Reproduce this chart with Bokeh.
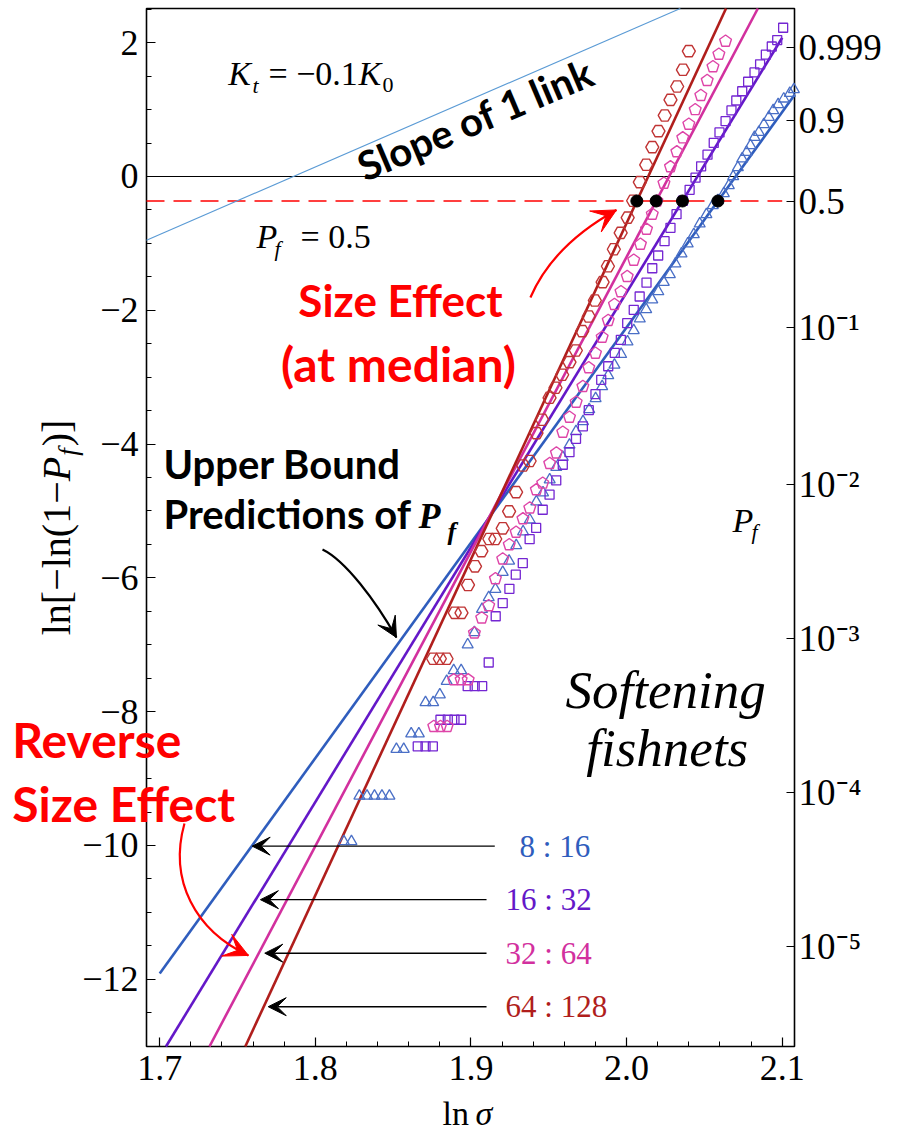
import numpy as np
from bokeh.plotting import figure
from bokeh.models import (Range1d, LinearAxis, FixedTicker, CustomJSTickFormatter,
                          Label, Arrow, VeeHead)
from bokeh.embed import file_html
from bokeh.resources import INLINE

# ---------------- data ----------------
# 8:16 (triangles)
tri_x = [1.8183, 1.8232, 1.8283, 1.8332, 1.8380, 1.8428, 1.8476, 1.8521, 1.8568, 1.8616,
         1.8665, 1.8708, 1.8757, 1.8800, 1.8844, 1.8889, 1.8937, 1.8979, 1.9022, 1.9071,
         1.9114, 1.9157, 1.9204, 1.9245, 1.9291, 1.9335, 1.9378, 1.9420, 1.9463, 1.9506,
         1.9548, 1.9590, 1.9633, 1.9675, 1.9720, 1.9760, 1.9801, 1.9843, 1.9882, 1.9922,
         1.9965, 2.0006, 2.0046, 2.0085, 2.0126, 2.0165, 2.0204, 2.0239, 2.0278, 2.0314,
         2.0353, 2.0393, 2.0432, 2.0470, 2.0513, 2.0554, 2.0587, 2.0625, 2.0657, 2.0685,
         2.0715, 2.0743, 2.0771, 2.0796, 2.0822, 2.0850, 2.0882, 2.0914, 2.0942, 2.0974,
         2.1010, 2.1049, 2.1075]
tri_y = [-9.940, -9.940, -9.260, -9.260, -9.260, -9.260, -9.260, -8.561, -8.561, -8.330,
         -8.330, -7.862, -7.862, -7.746, -7.544, -7.384, -7.384, -6.998, -6.816, -6.469,
         -6.293, -6.169, -5.915, -5.747, -5.516, -5.309, -5.132, -4.861, -4.726, -4.532,
         -4.345, -4.196, -4.013, -3.812, -3.662, -3.483, -3.318, -3.139, -2.975, -2.818,
         -2.658, -2.471, -2.302, -2.127, -1.988, -1.842, -1.720, -1.580, -1.465, -1.305,
         -1.155, -1.006, -0.867, -0.707, -0.568, -0.433, -0.359, -0.254, -0.135, 0.000,
         0.135, 0.265, 0.363, 0.463, 0.587, 0.662, 0.777, 0.886, 0.987, 1.076,
         1.161, 1.245, 1.300]
# 16:32 (squares)
sq_x = [1.8658, 1.8708, 1.8755, 1.8804, 1.8851, 1.8894, 1.8937, 1.8979, 1.9024, 1.9072,
        1.9114, 1.9159, 1.9204, 1.9247, 1.9288, 1.9333, 1.9377, 1.9419, 1.9461, 1.9505,
        1.9548, 1.9590, 1.9633, 1.9675, 1.9719, 1.9757, 1.9800, 1.9837, 1.9882, 1.9924,
        1.9963, 2.0004, 2.0046, 2.0084, 2.0128, 2.0165, 2.0203, 2.0244, 2.0282, 2.0321,
        2.0362, 2.0405, 2.0443, 2.0479, 2.0520, 2.0560, 2.0597, 2.0636, 2.0674, 2.0705,
        2.0743, 2.0781, 2.0822, 2.0858, 2.0895, 2.0933, 2.0968, 2.1006]
sq_y = [-8.520, -8.520, -8.520, -8.121, -8.121, -8.121, -8.121, -7.619, -7.619, -7.619,
        -7.265, -6.574, -6.378, -6.163, -5.952, -5.780, -5.422, -5.254, -4.982, -4.756,
        -4.544, -4.309, -4.121, -3.921, -3.734, -3.493, -3.254, -3.039, -2.837, -2.638,
        -2.441, -2.193, -1.993, -1.794, -1.587, -1.372, -1.181, -0.967, -0.767, -0.564,
        -0.363, -0.199, -0.018, 0.152, 0.326, 0.501, 0.658, 0.827, 0.987, 1.136,
        1.274, 1.416, 1.555, 1.677, 1.822, 1.943, 2.039, 2.223]
# 32:64 (pentagons)
pent_x = [1.8761, 1.8804, 1.8847, 1.8889, 1.8937, 1.8982, 1.9022, 1.9069, 1.9114, 1.9157,
          1.9204, 1.9246, 1.9290, 1.9334, 1.9378, 1.9420, 1.9461, 1.9506, 1.9549, 1.9590,
          1.9633, 1.9676, 1.9719, 1.9757, 1.9800, 1.9843, 1.9882, 1.9922, 1.9964, 2.0004,
          2.0046, 2.0089, 2.0128, 2.0165, 2.0195, 2.0240, 2.0282, 2.0323, 2.0361, 2.0400,
          2.0441, 2.0477, 2.0518, 2.0555, 2.0593, 2.0636]
pent_y = [-8.221, -8.221, -8.221, -7.523, -7.523, -7.523, -6.824, -6.599, -6.416, -6.013,
          -5.717, -5.504, -5.318, -5.117, -4.955, -4.683, -4.584, -4.290, -4.133, -3.822,
          -3.598, -3.374, -3.139, -2.859, -2.641, -2.402, -2.152, -1.913, -1.722, -1.495,
          -1.251, -1.013, -0.789, -0.564, -0.366, -0.100, 0.145, 0.369, 0.578, 0.782,
          0.999, 1.211, 1.435, 1.641, 1.828, 2.022]
# 64:128 (hexagons)
hex_x = [1.8757, 1.8800, 1.8843, 1.8896, 1.8939, 1.8981, 1.9026, 1.9067, 1.9118, 1.9156,
         1.9204, 1.9245, 1.9290, 1.9335, 1.9377, 1.9421, 1.9458, 1.9505, 1.9543, 1.9586,
         1.9633, 1.9674, 1.9715, 1.9757, 1.9796, 1.9846, 1.9880, 1.9918, 1.9962, 2.0007,
         2.0042, 2.0085, 2.0126, 2.0165, 2.0205, 2.0245, 2.0282, 2.0325, 2.0362, 2.0400]
hex_y = [-7.209, -7.209, -7.209, -6.522, -6.522, -6.106, -5.827, -5.601, -5.419, -5.419,
         -5.259, -5.007, -4.719, -4.320, -4.253, -3.837, -3.637, -3.308, -3.158, -2.964,
         -2.776, -2.601, -2.312, -2.093, -1.854, -1.580, -1.342, -1.088, -0.842, -0.616,
         -0.363, -0.085, 0.175, 0.438, 0.677, 0.912, 1.146, 1.345, 1.595, 1.873]

series_names = ["8 : 16", "16 : 32", "32 : 64", "64 : 128"]
line_colors = ["#2f5dbd", "#6418c8", "#d2309e", "#b01e1c"]
marker_colors = ["#4a6fc6", "#7426d2", "#de45a8", "#c03434"]
# upper-bound Weibull lines: median ln(sigma) and slope
median_x = [2.0587, 2.0359, 2.0190, 2.0066]
fit_slope = [32.19, 38.08, 44.03, 50.23]
fit_x_start = [1.700, 1.700, 1.700, 1.700]
fit_x_end = [2.110, 2.100, 2.100, 2.100]
# "slope of 1 link" line
link_slope = 10.1
link_zero_x = 1.7859
# right-hand probability axis
pf_ticks = [0.999, 0.9, 0.5, 1e-1, 1e-2, 1e-3, 1e-4, 1e-5]
pf_labels = ["0.999", "0.9", "0.5", "10\u207b\u00b9", "10\u207b\u00b2", "10\u207b\u00b3",
             "10\u207b\u2074", "10\u207b\u2075"]
x_ticks = [1.7, 1.8, 1.9, 2.0, 2.1]
y_ticks = [-12, -10, -8, -6, -4, -2, 0, 2]
# label arrows (y level, tip x, tail x, text left x)
arrow_y = [-10.01, -10.81, -11.61, -12.41]
arrow_tip_x = [1.7594, 1.7647, 1.7675, 1.7697]
arrow_tail_x = [1.9153, 1.9100, 1.9100, 1.9100]
label_left_x = [1.9312, 1.9222, 1.9222, 1.9222]

# ---------------- figure ----------------
# plot box (data limits) and its pixel placement on the page
X0, X1 = 1.6915, 2.1079
Y0, Y1 = -13.005, 2.511
FL, FT, FW, FH = 146, 8, 648, 1038
W, H = 897, 1136
kx = (X1 - X0) / FW
ky = (Y1 - Y0) / FH
SERIF = "Liberation Serif"
SANS = "Lato"

# the bokeh frame covers the whole canvas so that no text is clipped;
# the axes are drawn at fixed locations on the plot box edges
p = figure(width=W, height=H,
           x_range=Range1d(X0 - FL * kx, X0 + (W - FL) * kx),
           y_range=Range1d(Y1 - (H - FT) * ky, Y1 + FT * ky),
           output_backend="svg", toolbar_location=None,
           min_border=0, min_border_left=0, min_border_right=0,
           min_border_top=0, min_border_bottom=0)
p.xgrid.visible = False
p.ygrid.visible = False
p.outline_line_color = None
p.background_fill_color = "white"
p.border_fill_color = "white"

NEAREST_JS = """
let best = 0, d = 1e9;
for (let i = 0; i < pos.length; i++) { const dd = Math.abs(pos[i] - tick); if (dd < d) { d = dd; best = i; } }
return labs[best];
"""


def style_axis(ax, standoff):
    ax.major_tick_in = 9
    ax.major_tick_out = 0
    ax.minor_tick_in = 5
    ax.minor_tick_out = 0
    ax.axis_line_color = None
    ax.major_tick_line_color = "black"
    ax.major_tick_line_width = 1.2
    ax.minor_tick_line_color = "black"
    ax.major_label_text_font = SERIF
    ax.major_label_text_font_size = "36px"
    ax.major_label_text_color = "black"
    ax.major_label_standoff = standoff


xa = p.xaxis[0]
xa.fixed_location = Y0
xa.ticker = FixedTicker(ticks=x_ticks,
                        minor_ticks=[float(v) for v in np.round(np.arange(1.70, 2.1001, 0.02), 2)])
xa.formatter = CustomJSTickFormatter(code="return tick.toFixed(1);")
style_axis(xa, 9)

ya = p.yaxis[0]
ya.fixed_location = X0
ya.ticker = FixedTicker(ticks=y_ticks,
                        minor_ticks=[float(v) for v in np.arange(-13.0, 2.51, 0.5)])
ya.formatter = CustomJSTickFormatter(
    code="return tick < 0 ? '\\u2212' + Math.abs(tick) : String(tick);")
style_axis(ya, 8)

pf_pos = [float(np.log(-np.log(1.0 - v))) for v in pf_ticks]
ra = LinearAxis(fixed_location=X1, ticker=FixedTicker(ticks=pf_pos, minor_ticks=[]),
                formatter=CustomJSTickFormatter(args=dict(pos=pf_pos, labs=pf_labels),
                                                code=NEAREST_JS))
style_axis(ra, 4)
ra.major_label_text_font_size = "37px"
ra.major_tick_in = 8
ra.minor_tick_in = 0
p.add_layout(ra, "right")

# plot box
p.quad(left=[X0], right=[X1], bottom=[Y0], top=[Y1], fill_color=None,
       line_color="black", line_width=1.6)

# reference lines
y_half = float(np.log(np.log(2.0)))
p.line([X0, X1], [0, 0], line_color="black", line_width=1.2)
p.line([X0, 2.100], [y_half, y_half], line_color="#ff0000", line_width=1.4, line_dash="18 9")

# slope of 1 link (kept inside the plot box)
lx = np.array([max(X0, link_zero_x + Y0 / link_slope), min(X1, link_zero_x + Y1 / link_slope)])
p.line(lx, link_slope * (lx - link_zero_x), line_color="#5b9bd5", line_width=1.1)

# upper-bound lines (kept inside the plot box)
for mx, m, xs, xe, c in zip(median_x, fit_slope, fit_x_start, fit_x_end, line_colors):
    lo = max(xs, X0, mx + (Y0 - y_half) / m)
    hi = min(xe, X1, mx + (Y1 - y_half) / m)
    xx = np.array([lo, hi])
    p.line(xx, y_half + m * (xx - mx), line_color=c, line_width=2.6)

# markers
p.scatter(tri_x, tri_y, marker="triangle", size=11, fill_color=None,
          line_color=marker_colors[0], line_width=1.3)
p.scatter(sq_x, sq_y, marker="square", size=9, fill_color=None,
          line_color=marker_colors[1], line_width=1.3)
ang = np.pi / 2 + np.arange(5) * 2 * np.pi / 5
pxs = [list(x + 6.2 * kx * np.cos(ang)) for x in pent_x]
pys = [list(y + 6.2 * ky * np.sin(ang)) for y in pent_y]
p.patches(pxs, pys, fill_color=None, line_color=marker_colors[2], line_width=1.4)
p.scatter(hex_x, hex_y, marker="hex", size=13, fill_color=None,
          line_color=marker_colors[3], line_width=1.4)

# medians
p.scatter(median_x, [y_half] * 4, size=12, marker="circle", fill_color="black", line_color="black")


def add_text(x, y, text, size, color="black", font=SERIF, style="normal", align="left",
             baseline="middle", angle=0.0):
    p.add_layout(Label(x=x, y=y, text=text, text_font=font, text_font_size=f"{size}px",
                       text_color=color, text_font_style=style, text_align=align,
                       text_baseline=baseline, angle=angle))


# K_t = -0.1 K_0
add_text(1.7441, 1.532, "K", 34, style="italic")
add_text(1.7596, 1.366, "t", 22, style="italic")
add_text(1.7699, 1.532, "= \u22120.1", 34)
add_text(1.8277, 1.532, "K", 34, style="italic")
add_text(1.8431, 1.366, "0", 22)
# P_f = 0.5
add_text(1.7622, -0.904, "P", 34, style="italic")
add_text(1.7738, -1.070, "f", 22, style="italic")
add_text(1.7905, -0.904, "= 0.5", 34)
# right P_f
add_text(2.0680, -5.135, "P", 34, style="italic")
add_text(2.0802, -5.300, "f", 22, style="italic")

# slope of 1 link
add_text(1.8283, 0.124, "Slope of 1 link", 40, font=SANS, style="bold", angle=0.40)

# Size effect (at median)
add_text(1.8547, -1.849, "Size Effect", 44, color="#ff0000", font=SANS, style="bold", align="center")
add_text(1.8534, -2.795, "(at median)", 48, color="#ff0000", font=SANS, style="bold", align="center")

# Upper bound predictions
add_text(1.7024, -4.294, "Upper Bound", 40, font=SANS, style="bold")
add_text(1.7024, -5.042, "Predictions of", 40, font=SANS, style="bold")
add_text(1.8663, -5.081, "P", 36, style="bold italic")
add_text(1.8850, -5.309, "f", 26, style="bold italic")

# Softening fishnets
add_text(1.9608, -7.683, "Softening", 53, style="italic")
add_text(1.9741, -8.550, "fishnets", 53, style="italic")

# Reverse size effect
add_text(1.6053, -8.411, "Reverse", 48, color="#ff0000", font=SANS, style="bold")
add_text(1.6053, -9.374, "Size Effect", 48, color="#ff0000", font=SANS, style="bold")

# y-axis title ln[-ln(1-P_f)] (rotated, built from pieces)
add_text(1.6336, -6.858, "ln[\u2212ln(1\u2212", 40, angle=np.pi / 2)
add_text(1.6336, -4.556, "P", 40, style="italic", angle=np.pi / 2)
add_text(1.6409, -4.176, "f", 27, style="italic", angle=np.pi / 2)
add_text(1.6336, -4.034, ")]", 40, angle=np.pi / 2)
# x-axis title  ln sigma
add_text(1.8817, -14.006, "ln", 34)
add_text(1.9029, -14.006, "\u03c3", 34, style="italic")

# series labels and arrows
for yy, tx, sx, lxp, name, c in zip(arrow_y, arrow_tip_x, arrow_tail_x, label_left_x,
                                     series_names, line_colors):
    p.add_layout(Arrow(end=VeeHead(size=18, fill_color="black", line_color="black", line_width=1),
                       x_start=sx, y_start=yy, x_end=tx, y_end=yy,
                       line_color="black", line_width=1.4))
    add_text(lxp, yy, name, 31, color=c)


# curved arrows
def curved_arrow(x0, y0, cx0, cy0, cx1, cy1, x1, y1, color, head):
    p.bezier(x0=[x0], y0=[y0], x1=[x1], y1=[y1], cx0=[cx0], cy0=[cy0], cx1=[cx1], cy1=[cy1],
             line_color=color, line_width=2.2)
    p.add_layout(Arrow(end=VeeHead(size=head, fill_color=color, line_color=color, line_width=1),
                       x_start=cx1, y_start=cy1, x_end=x1, y_end=y1,
                       line_alpha=0.0, line_width=0.1))


curved_arrow(1.8046, -5.575, 1.8193, -5.740, 1.8386, -6.338, 1.8521, -6.891, "black", 20)
curved_arrow(1.9382, -1.809, 1.9479, -1.286, 1.9672, -0.837, 1.9935, -0.500, "#ff0000", 24)
curved_arrow(1.7159, -9.671, 1.7056, -10.523, 1.7229, -11.271, 1.7570, -11.644, "#ff0000", 24)

html = file_html(p, INLINE, "chart")
with open("out.html", "w", encoding="utf-8") as f:
    f.write(html)
